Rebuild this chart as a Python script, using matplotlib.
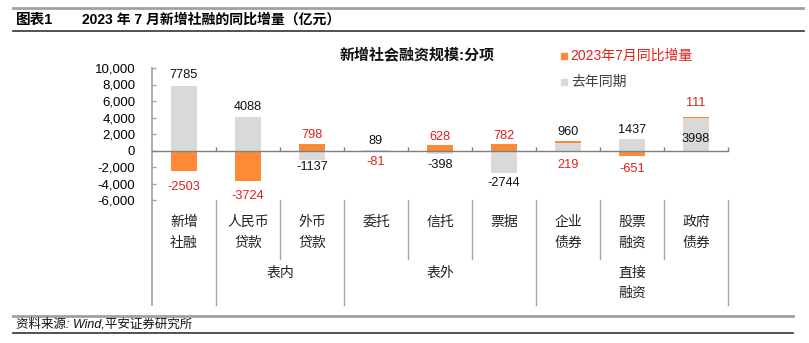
import matplotlib
matplotlib.use("Agg")
import matplotlib.pyplot as plt
from matplotlib.lines import Line2D
from matplotlib.patches import Rectangle
from matplotlib.transforms import blended_transform_factory
import numpy as np

plt.rcParams['font.family'] = ['Liberation Sans', 'Noto Sans CJK SC']

# ---------------- data ----------------
categories = ["新增\n社融", "人民币\n贷款", "外币\n贷款", "委托", "信托", "票据", "企业\n债券", "股票\n融资", "政府\n债券"]
last_year = [7785, 4088, -1137, 89, -398, -2744, 960, 1437, 3998]      # 去年同期
yoy_change = [-2503, -3724, 798, -81, 628, 782, 219, -651, 111]         # 2023年7月同比增量
groups = [("", 0, 0), ("表内", 1, 2), ("表外", 3, 5), ("直接\n融资", 6, 8)]
yticks = [-6000, -4000, -2000, 0, 2000, 4000, 6000, 8000, 10000]

# label offsets (image px, + = down) relative to segment outer end (style only)
gray_off = [-10.8, -9.3, 7.6, -8.6, 11.7, 9.7, -11, -9, 21]
orange_off = [16, 15, -9.4, 11, -8, -8, 24.7, 13, -13.4]

W, H = 809, 343
fig = plt.figure(figsize=(W / 100, H / 100), dpi=100)

def fy(ypx):
    return 1 - ypx / H

def fx(xpx):
    return xpx / W

ax = fig.add_axes([fx(152), fy(200), (728 - 152) / W, (200 - 68) / H])
ax.set_xlim(-0.5, len(categories) - 0.5)
ax.set_ylim(-6000, 10000)

GRAY = '#d9d9d9'
ORANGE = '#fd8a34'
RED = '#e0201b'

x = np.arange(len(categories))
gv = np.array(last_year, dtype=float)
ov = np.array(yoy_change, dtype=float)
obottom = np.where(np.sign(ov) == np.sign(gv), gv, 0.0)
bw = 0.41
ax.bar(x, gv, width=bw, color=GRAY, zorder=2)
ax.bar(x, ov, bottom=obottom, width=bw, color=ORANGE, zorder=2)

for i in range(len(categories)):
    g = gv[i]
    ax.annotate(f"{int(last_year[i])}", (x[i], g), xytext=(0, -gray_off[i]),
                textcoords='offset pixels', ha='center', va='center',
                fontsize=9.2, color='#111111', zorder=5)
    oend = obottom[i] + ov[i]
    ax.annotate(f"{int(yoy_change[i])}", (x[i], oend), xytext=(0, -orange_off[i]),
                textcoords='offset pixels', ha='center', va='center',
                fontsize=9.2, color=RED, zorder=5)

# axes styling
for s in ['top', 'right']:
    ax.spines[s].set_visible(False)
ax.spines['bottom'].set_position(('data', 0))
ax.spines['bottom'].set_color('#7f7f7f')
ax.spines['bottom'].set_linewidth(1.0)
ax.spines['left'].set_color('#a6a6a6')
ax.spines['left'].set_linewidth(1.3)
ax.set_xticks(np.arange(0.5, len(categories), 1.0))
ax.set_xticklabels([])
ax.tick_params(axis='x', direction='in', length=3, color='#7f7f7f', width=1)
ax.set_yticks(yticks)
ax.set_yticklabels([f"{v:,}" for v in yticks], fontsize=9.5)
ax.tick_params(axis='y', direction='in', length=3, color='#a6a6a6', width=1, pad=12)
ax.patch.set_visible(False)

# category axis area
bt = blended_transform_factory(ax.transData, fig.transFigure)
gcol = '#a6a6a6'
fig.add_artist(Line2D([-0.5, -0.5], [fy(200), fy(305)], transform=bt, color=gcol, lw=1.3))
group_bounds = set()
for name, a, b in groups:
    group_bounds.add(b + 0.5)
for k in range(len(categories)):
    bx = k + 0.5
    if bx in group_bounds:
        fig.add_artist(Line2D([bx, bx], [fy(200), fy(305)], transform=bt, color=gcol, lw=1.0))
    else:
        fig.add_artist(Line2D([bx, bx], [fy(200), fy(259)], transform=bt, color=gcol, lw=1.0))

cat_rows = [222, 243]
for i, c in enumerate(categories):
    for r, line in enumerate(c.split("\n")):
        fig.text(x[i], fy(cat_rows[r]), line, transform=bt, ha='center', va='center',
                 fontsize=10, color='#222222')
grp_rows = [273, 293]
for name, a, b in groups:
    if name:
        for r, line in enumerate(name.split("\n")):
            fig.text((a + b) / 2, fy(grp_rows[r]), line, transform=bt, ha='center',
                     va='center', fontsize=10, color='#222222')

# chart title and legend
fig.text(fx(417), fy(55), "新增社会融资规模:分项", ha='center', va='center',
         fontsize=10.8, fontweight='bold', color='#111111')
fig.add_artist(Rectangle((fx(561), fy(59)), 6 / W, 6 / H, transform=fig.transFigure,
                         color=ORANGE))
fig.text(fx(570), fy(56), "2023年7月同比增量", ha='left', va='center', fontsize=10, color=RED)
fig.add_artist(Rectangle((fx(561), fy(85)), 6 / W, 6 / H, transform=fig.transFigure,
                         color=GRAY))
fig.text(fx(571), fy(82), "去年同期", ha='left', va='center', fontsize=10, color='#404040')

# header / footer
fig.add_artist(Line2D([fx(13), fx(803)], [fy(8), fy(8)], color='#a0a0a0', lw=2.0))
fig.text(fx(16), fy(20), "图表1", ha='left', va='center', fontsize=10.5, fontweight='bold')
fig.text(fx(82), fy(20), "2023 年 7 月新增社融的同比增量（亿元）", ha='left', va='center',
         fontsize=10, fontweight='bold')
fig.add_artist(Line2D([fx(13), fx(804)], [fy(31), fy(31)], color='#333333', lw=1.2))
fig.add_artist(Line2D([fx(13), fx(793)], [fy(316), fy(316)], color='#a0a0a0', lw=2.0))
fig.text(fx(16), fy(324.5), "资料来源: Wind,平安证券研究所", ha='left', va='center',
         fontsize=9, style='italic', color='#111111')
fig.add_artist(Line2D([fx(13), fx(793)], [fy(333), fy(333)], color='#333333', lw=1.2))

fig.savefig("out.png", dpi=100)
